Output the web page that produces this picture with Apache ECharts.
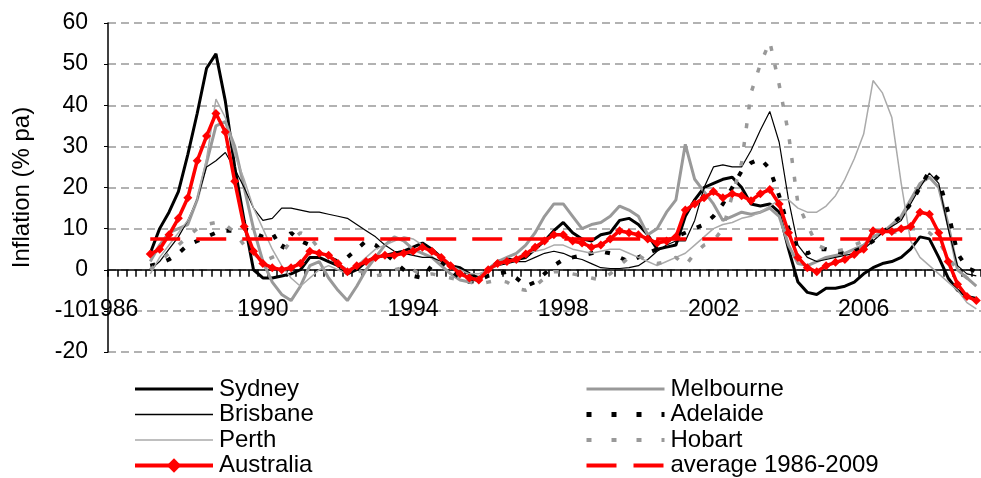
<!DOCTYPE html>
<html>
<head>
<meta charset="utf-8">
<script src="https://cdn.jsdelivr.net/npm/echarts@6/dist/echarts.min.js"></script>
<style>
  html, body { margin: 0; padding: 0; background: #fff; }
  #chart { width: 981px; height: 478px; }
</style>
</head>
<body>
<div id="chart"></div>
<script>
// quarters 1986Q1 .. 2009Q1, data starts 1987Q1
var years = ['1986','1987','1988','1989','1990','1991','1992','1993','1994','1995','1996','1997',
  '1998','1999','2000','2001','2002','2003','2004','2005','2006','2007','2008','2009'];
var quarters = [];
years.forEach(function (y) {
  ['Q1','Q2','Q3','Q4'].forEach(function (q) { quarters.push(y + q); });
});
quarters = quarters.slice(0, 93);

var sydney = [4, 10, 14, 19, 28, 38, 49, 52.5, 41, 25,
  12, 0, -2, -2, -1.5, -1, 0, 3, 3, 2,
  1, -1, 0, 2, 3, 3.5, 4, 4.5, 5.5, 6.5,
  5, 3, 1, 0.5, -1, -2, 0, 2, 2.5, 2.5,
  3, 5, 7, 9.5, 11.5, 9, 7.5, 7, 8.5, 9,
  12, 12.5, 11, 8.5, 5, 5.5, 6, 13, 17, 20,
  21, 22, 22.5, 20, 16, 15.5, 16, 14, 5, -3,
  -5.5, -6, -4.5, -4.5, -4, -3, -1, 0.5, 1.5, 2,
  3, 5, 8, 7.5, 3, -2, -5, -6.5, -7];
var melbourne = [2, 6, 9, 10, 11, 17, 26, 35, 36, 30,
  20, 10, 2, -3, -6, -7.5, -4, 1, 2, -2,
  -5, -7.5, -4, 0, 3, 6, 8, 7, 5, 4,
  3, 1, -1, -2.5, -3, -2, 0, 2, 3, 4,
  6, 9, 13, 16, 16, 13, 10, 11, 11.5, 13,
  15.5, 14.5, 13, 8.5, 10, 14, 17, 30.5, 22, 19,
  16, 12, 13, 14, 13.5, 14, 15, 13, 6, 1.5,
  1, 2, 3, 3.5, 4, 5, 6, 8, 9, 11,
  13, 17, 21, 22.5, 20, 11, 0, -2, -4];
var brisbane = [0, 2, 5, 8, 12, 17, 25, 26.5, 28.5, 24.5,
  20, 15, 12, 12.5, 15, 15, 14.5, 14, 14, 13.5,
  13, 12.5, 11, 9.5, 8, 6, 4.5, 4, 3.5, 3,
  3, 2, 1, -0.5, -2, -3, 0, 1, 1.5, 2,
  2, 3, 4, 4.5, 4, 3, 2.5, 1.5, 0.5, 0.3,
  0.3, 0.5, 1, 2.5, 4.5, 6, 7, 7, 12, 20,
  25, 25.5, 25, 25, 29, 34, 38.5, 31, 17, 6,
  3, 2, 2.5, 3, 3.5, 4, 5, 7, 9, 10.5,
  12, 16, 20, 23.5, 21, 10, 1, -1, -1.5];
var adelaide = [1, 1.5, 2.5, 4, 6, 7, 8, 9, 9.5, 9.5,
  10, 9, 8, 9, 5, 9, 7, 6, 4, 3,
  2, 3, 5, 7, 6, 4, 2, 0, -1.5, -2,
  1, 2, 0, -2, -3, -2.5, -1.5, -1, -0.5, -2,
  -4, -3, -1, 1, 2.5, 3, 3.5, 4, 4.5, 4,
  3, 2, 3, 4, 5, 7, 8, 9, 10, 11,
  13, 16, 20, 24, 26, 27, 24.5, 18, 10, 5,
  4, 5, 5, 4.5, 4, 4.5, 5.5, 7, 9, 11,
  13, 16, 20, 24, 22, 14, 4, 0.5, -0.5];
var perth = [-1, 3, 6, 9, 12, 17, 27, 41.5, 37, 28,
  22, 15, 10, 5, 1, -2, -4, -2, 0, 1,
  0, -1, 1, 3, 5, 6, 7, 8, 7.5, 6,
  4, 3, 1, 0, -1, -1, 0, 1, 2, 3,
  4, 4.5, 5, 6, 6, 5, 4.5, 4, 4.5, 5,
  5, 4, 3, 2, 1, 2, 3, 4, 6, 8,
  10, 11, 11.5, 12.5, 13, 14, 15.5, 17, 17, 15,
  14, 14, 15.5, 18, 22, 27, 33, 46, 43, 37,
  21, 7, 3, 1, -1, -3, -5, -8, -9.5];
var hobart = [0, 2, 4, 6, 8, 10, 11, 11.5, 11, 9,
  6, 4, 2, 3, 4, 7, 9, 8, 5, 3,
  1, 0, 0, -1, -1.5, -1, 0, 0.5, 0, -1.5,
  -1, -1.5, -2, -2.5, -3, -3.5, -3, -2.5, -3, -4.5,
  -5, -4, -2, -0.5, -0.5, -1, -1.5, -2, -2.5, -1,
  1, 3, 3.5, 2, 1.5, 2, 3, 1, 4, 6,
  7, 10, 18, 26, 43, 50, 55.5, 45, 33, 16,
  11, 6, 5, 4.5, 5, 6, 7, 8, 9, 9,
  9.5, 10, 10, 9, 7, 3, 0, -2, -3];
var australia = [3.8, 5, 8.5, 12.5, 17.5, 26.5, 32.5, 38, 33.5, 21.5,
  10.5, 4.5, 1.5, 0.5, 0, 0.5, 1.5, 4.5, 4, 3.5,
  1.5, -0.5, 1, 2, 3, 3.5, 3.5, 4, 4.5, 5.5,
  4.5, 3, 1, -1, -2, -2.5, 0, 1.5, 2, 2.5,
  3.8, 5.5, 7, 8.5, 8.5, 7, 6.5, 5.5, 6, 7.5,
  9.5, 9, 8.5, 7.5, 6.5, 7, 8, 14.5, 16, 17.5,
  19, 17.5, 18.5, 18, 16.8, 18.5, 19.5, 16, 9, 3,
  0.5, -0.5, 1, 1.8, 2.5, 3.7, 5, 9.5, 9.3, 9.3,
  10, 10.5, 14, 13.5, 9, 2, -3.5, -6.5, -7.5];
var averageValue = 7.5;

// data begins four quarters in
function pad(arr) { return [null, null, null, null].concat(arr); }
var average = pad(australia.map(function () { return averageValue; }));

var font = 'Liberation Sans, Arial, sans-serif';
var chart = echarts.init(document.getElementById('chart'));

function lineSeries(name, data, color, width, type) {
  return {
    name: name, type: 'line', data: pad(data), symbol: 'none',
    lineStyle: { color: color, width: width, type: type || 'solid' },
    itemStyle: { color: color }
  };
}

// legend entries: set line width by hand, hide the default circle unless marked
function legendItem(name, width, marker, type) {
  var item = { name: name, lineStyle: { width: width } };
  if (type) item.lineStyle.type = type;
  if (!marker) item.itemStyle = { opacity: 0 };
  return item;
}
var legendCommon = {
  orient: 'vertical', top: 377, padding: 0, height: 200, width: 400,
  itemWidth: 78, itemHeight: 18, itemGap: 1.5,
  textStyle: { fontSize: 24, lineHeight: 18, color: '#000', fontFamily: font, padding: [0, 0, 0, 1] }
};

var option = {
  animation: false,
  textStyle: { fontFamily: font },
  grid: { left: 108, right: 0, top: 23, bottom: 126 },
  legend: [
    Object.assign({
      left: 133,
      data: [legendItem('Sydney', 3), legendItem('Brisbane', 1.5), legendItem('Perth', 1.5),
        legendItem('Australia', 4, true)]
    }, legendCommon),
    Object.assign({
      left: 584,
      data: [legendItem('Melbourne', 3), legendItem('Adelaide', 5, false, [5, 20]),
        legendItem('Hobart', 4, false, [5, 20]), legendItem('average 1986-2009', 4, false, [30, 17])]
    }, legendCommon)
  ],
  xAxis: {
    type: 'category', data: quarters, boundaryGap: true,
    axisLine: { onZero: true, lineStyle: { color: '#000', width: 1.5 } },
    axisTick: { show: true, interval: 0, length: 7, lineStyle: { color: '#000', width: 1.5 } },
    axisLabel: {
      interval: 15, margin: -54, fontSize: 23, color: '#000',
      formatter: function (v) { return v.slice(0, 4); }
    },
    splitLine: { show: false }
  },
  yAxis: {
    type: 'value', min: -20, max: 60, interval: 10,
    name: 'Inflation (% pa)', nameLocation: 'middle', nameGap: 74,
    nameTextStyle: { fontSize: 24, color: '#000' },
    axisLine: { show: true, lineStyle: { color: '#000', width: 1.5 } },
    axisTick: { show: true, length: 4, lineStyle: { color: '#000' } },
    axisLabel: { fontSize: 23, margin: 20, color: '#000' },
    splitLine: { lineStyle: { color: '#999', width: 1.5, type: [8, 5] } }
  },
  series: [
    lineSeries('Sydney', sydney, '#000', 3),
    lineSeries('Melbourne', melbourne, '#999', 3),
    lineSeries('Brisbane', brisbane, '#000', 1.2),
    lineSeries('Adelaide', adelaide, '#000', 4, [5, 12]),
    lineSeries('Perth', perth, '#aaa', 1.5),
    lineSeries('Hobart', hobart, '#999', 3.5, [5, 14]),
    {
      name: 'Australia', type: 'line', data: pad(australia),
      symbol: 'diamond', symbolSize: 9, showAllSymbol: true,
      lineStyle: { color: '#f00', width: 3.5 },
      itemStyle: { color: '#f00' }
    },
    {
      name: 'average 1986-2009', type: 'line', data: average, symbol: 'none',
      lineStyle: { color: '#f00', width: 3.5, type: [30, 16] },
      itemStyle: { color: '#f00' }
    }
  ]
};

chart.setOption(option);
</script>
</body>
</html>
